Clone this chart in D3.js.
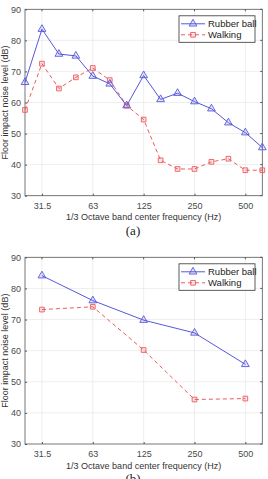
<!DOCTYPE html>
<html>
<head>
<meta charset="utf-8">
<script src="https://cdn.jsdelivr.net/npm/d3@7"></script>
<style>
  body { margin: 0; background: #fff; }
  svg text { font-family: "Liberation Sans", Arial, sans-serif; }
</style>
</head>
<body>
<div id="chart-container"></div>
<script>
// third-octave bands, 25 Hz .. 630 Hz (index 0..14)
var bandsA = [25, 31.5, 40, 50, 63, 80, 100, 125, 160, 200, 250, 315, 400, 500, 630];
var rubberA = [66.5, 83.6, 75.6, 75, 68.5, 66, 59, 68.7, 61, 63, 60.3, 58, 53.5, 50.3, 45.5];
var walkingA = [57.6, 72.5, 64.5, 68.1, 71.1, 67.2, 59, 54.5, 41.4, 38.6, 38.6, 40.9, 41.9, 38.2, 38.2];

// octave bands (b)
var bandsB = [31.5, 63, 125, 250, 500];
var rubberB = [84.1, 76.1, 69.8, 65.7, 55.6];
var walkingB = [73.2, 74.1, 60.2, 44.3, 44.6];

var xTickLabels = ["31.5", "63", "125", "250", "500"];
var yTicks = [30, 40, 50, 60, 70, 80, 90];

var blue = "#5757dc", red = "#ee5a5e";

var svg = d3.select("#chart-container").append("svg")
    .attr("width", 268).attr("height", 479);

// x position from band index on the third-octave grid
var allBands = bandsA.map(String);
var x = d3.scaleLinear().domain([0, 14]).range([25, 262.3]);
function bandIdx(f) { return allBands.indexOf(String(f)); }

function drawPanel(top, bottom, bands, rubber, walking, letter) {
  var y = d3.scaleLinear().domain([30, 90]).range([bottom, top]);
  var g = svg.append("g");

  // grid
  g.selectAll(".gx").data(xTickLabels).enter().append("line")
      .attr("x1", function(d) { return x(bandIdx(d)); })
      .attr("x2", function(d) { return x(bandIdx(d)); })
      .attr("y1", top).attr("y2", bottom)
      .attr("stroke", "#e6e6e6").attr("stroke-width", 0.7);
  g.selectAll(".gy").data(yTicks.slice(1, -1)).enter().append("line")
      .attr("x1", x.range()[0]).attr("x2", x.range()[1])
      .attr("y1", y).attr("y2", y)
      .attr("stroke", "#e6e6e6").attr("stroke-width", 0.7);

  // axes (ticks inward)
  var xAxis = d3.axisBottom(x)
      .tickValues(xTickLabels.map(bandIdx))
      .tickFormat(function(d, i) { return xTickLabels[i]; })
      .tickSizeInner(-2).tickSizeOuter(0).tickPadding(7);
  var gx = g.append("g").attr("transform", "translate(0," + bottom + ")").call(xAxis);
  var yAxis = d3.axisLeft(y).tickValues(yTicks).tickSizeInner(-2).tickSizeOuter(0).tickPadding(4);
  var gy = g.append("g").attr("transform", "translate(" + x.range()[0] + ",0)").call(yAxis);
  [gx, gy].forEach(function(a) {
    a.select(".domain").remove();
    a.selectAll("line").attr("stroke", "#555");
    a.selectAll("text").attr("fill", "#4a4a4a").style("font-size", "9px");
  });
  // right/top ticks
  g.selectAll(".ty").data(yTicks).enter().append("line")
      .attr("x1", x.range()[1]).attr("x2", x.range()[1] - 2)
      .attr("y1", y).attr("y2", y).attr("stroke", "#555");
  g.selectAll(".tx").data(xTickLabels).enter().append("line")
      .attr("x1", function(d) { return x(bandIdx(d)); })
      .attr("x2", function(d) { return x(bandIdx(d)); })
      .attr("y1", top).attr("y2", top + 2).attr("stroke", "#555");

  g.append("rect")
      .attr("x", x.range()[0]).attr("y", top)
      .attr("width", x.range()[1] - x.range()[0]).attr("height", bottom - top)
      .attr("fill", "none").attr("stroke", "#555").attr("stroke-width", 0.8);

  var line = d3.line()
      .x(function(d) { return x(bandIdx(d[0])); })
      .y(function(d) { return y(d[1]); });

  var wData = d3.zip(bands, walking);
  var rData = d3.zip(bands, rubber);

  g.append("path").datum(wData).attr("d", line)
      .attr("fill", "none").attr("stroke", red).attr("stroke-width", 1)
      .attr("stroke-dasharray", "4,3");
  g.append("path").datum(rData).attr("d", line)
      .attr("fill", "none").attr("stroke", blue).attr("stroke-width", 1);

  var sq = d3.symbol().type(d3.symbolSquare).size(22);
  var tri = d3.symbol().type(d3.symbolTriangle).size(26);

  g.selectAll(".wm").data(wData).enter().append("path")
      .attr("d", sq)
      .attr("transform", function(d) { return "translate(" + x(bandIdx(d[0])) + "," + y(d[1]) + ")"; })
      .attr("fill", "rgba(238,90,94,0.15)").attr("stroke", red).attr("stroke-width", 0.9);
  g.selectAll(".rm").data(rData).enter().append("path")
      .attr("d", tri)
      .attr("transform", function(d) { return "translate(" + x(bandIdx(d[0])) + "," + y(d[1]) + ")"; })
      .attr("fill", "rgba(87,87,220,0.15)").attr("stroke", blue).attr("stroke-width", 0.9);

  // legend
  var lg = g.append("g").attr("transform", "translate(179," + (top + 6.5) + ")");
  lg.append("rect").attr("width", 76).attr("height", 26.5)
      .attr("fill", "#fff").attr("stroke", "#333").attr("stroke-width", 0.8);
  lg.append("line").attr("x1", 2).attr("x2", 26).attr("y1", 8).attr("y2", 8)
      .attr("stroke", blue).attr("stroke-width", 1);
  lg.append("path").attr("d", tri).attr("transform", "translate(14,8)")
      .attr("fill", "rgba(87,87,220,0.15)").attr("stroke", blue).attr("stroke-width", 0.9);
  lg.append("line").attr("x1", 2).attr("x2", 26).attr("y1", 19).attr("y2", 19)
      .attr("stroke", red).attr("stroke-width", 1).attr("stroke-dasharray", "4,3");
  lg.append("path").attr("d", sq).attr("transform", "translate(14,19)")
      .attr("fill", "rgba(238,90,94,0.15)").attr("stroke", red).attr("stroke-width", 0.9);
  lg.append("text").attr("x", 29).attr("y", 11.3).text("Rubber ball")
      .style("font-size", "9.5px").attr("fill", "#222");
  lg.append("text").attr("x", 29).attr("y", 22.3).text("Walking")
      .style("font-size", "9.5px").attr("fill", "#222");

  // titles
  g.append("text")
      .attr("transform", "translate(7.5," + (top + bottom) / 2 + ") rotate(-90)")
      .attr("text-anchor", "middle").style("font-size", "9px").attr("fill", "#333")
      .text("Floor impact noise level (dB)");
  g.append("text")
      .attr("x", (x.range()[0] + x.range()[1]) / 2).attr("y", bottom + 24.5)
      .attr("text-anchor", "middle").style("font-size", "9px").attr("fill", "#333")
      .text("1/3 Octave band center frequency (Hz)");
  g.append("text")
      .attr("x", 133).attr("y", bottom + 39)
      .attr("text-anchor", "middle")
      .style("font-size", "13px").style("font-family", "'Liberation Serif', 'DejaVu Serif', serif")
      .attr("fill", "#222")
      .text(letter);
}

drawPanel(9.3, 195.7, bandsA, rubberA, walkingA, "(a)");
drawPanel(257.3, 444, bandsB, rubberB, walkingB, "(b)");
</script>
</body>
</html>
